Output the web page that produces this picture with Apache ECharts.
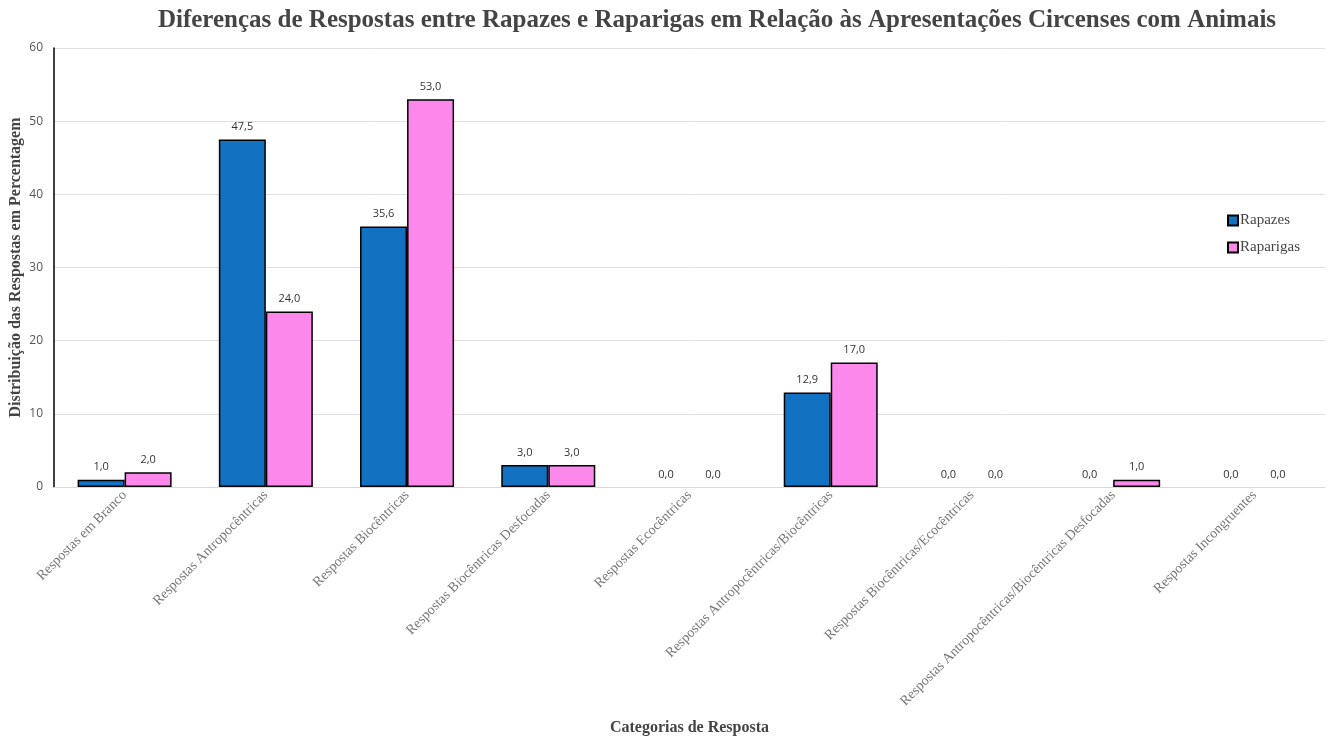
<!DOCTYPE html>
<html>
<head>
<meta charset="utf-8">
<script src="https://cdn.jsdelivr.net/npm/echarts@6/dist/echarts.min.js"></script>
<style>
  html, body { margin: 0; padding: 0; background: #fff; }
  #chart { width: 1331px; height: 740px; }
</style>
</head>
<body>
<div id="chart"></div>
<script>
const categorias = [
  'Respostas em Branco',
  'Respostas Antropocêntricas',
  'Respostas Biocêntricas',
  'Respostas Biocêntricas Desfocadas',
  'Respostas Ecocêntricas',
  'Respostas Antropocêntricas/Biocêntricas',
  'Respostas Biocêntricas/Ecocêntricas',
  'Respostas Antropocêntricas/Biocêntricas Desfocadas',
  'Respostas Incongruentes'
];
const rapazes = [1.0, 47.5, 35.6, 3.0, 0.0, 12.9, 0.0, 0.0, 0.0];
const raparigas = [2.0, 24.0, 53.0, 3.0, 0.0, 17.0, 0.0, 1.0, 0.0];

const chart = echarts.init(document.getElementById('chart'));

// rótulo com vírgula decimal
const rotulo = {
  show: true,
  position: 'top',
  distance: 7,
  fontFamily: 'Open Sans',
  fontSize: 11,
  color: '#333',
  formatter: p => p.value.toFixed(1).replace('.', ',')
};

// barras a zero sem contorno
const semContorno = arr => arr.map(v => v === 0 ? { value: v, itemStyle: { borderWidth: 0 } } : v);

chart.setOption({
  animation: false,
  title: {
    text: 'Diferenças de Respostas entre Rapazes e Raparigas em Relação às Apresentações Circenses com Animais',
    left: 712,
    textAlign: 'center',
    top: 3,
    textStyle: { fontFamily: 'Liberation Serif', fontSize: 25, fontWeight: 'bold', color: '#444' }
  },
  legend: {
    orient: 'vertical',
    left: 1222,
    top: 208,
    itemWidth: 10,
    itemHeight: 10,
    itemGap: 12,
    icon: 'rect',
    textStyle: { fontFamily: 'Liberation Serif', fontSize: 15, color: '#444', padding: [0, 0, 0, -3] },
    data: ['Rapazes', 'Raparigas']
  },
  grid: { left: 54, right: 6, top: 48, bottom: 253, outerBoundsMode: 'none' },
  xAxis: {
    type: 'category',
    data: categorias,
    name: 'Categorias de Resposta',
    nameLocation: 'middle',
    nameGap: 233,
    nameTextStyle: { fontFamily: 'Liberation Serif', fontSize: 16, fontWeight: 'bold', color: '#444' },
    axisLine: { lineStyle: { color: '#d9d9d9', width: 1 } },
    axisTick: { show: false },
    axisLabel: {
      interval: 0,
      rotate: 45,
      margin: 6,
      fontFamily: 'Liberation Serif',
      fontSize: 14,
      color: '#777'
    }
  },
  yAxis: {
    type: 'value',
    min: 0,
    max: 60,
    interval: 10,
    name: 'Distribuição das Respostas em Percentagem',
    nameLocation: 'middle',
    nameGap: 30,
    nameMoveOverlap: false,
    nameTextStyle: { fontFamily: 'Liberation Serif', fontSize: 16, fontWeight: 'bold', color: '#444' },
    axisLine: { show: true, lineStyle: { color: '#000', width: 1.5 } },
    axisTick: { show: false },
    axisLabel: { fontFamily: 'Open Sans', fontSize: 12, color: '#555', margin: 11 },
    splitLine: { lineStyle: { color: '#e0e0e0', width: 1 } }
  },
  series: [
    {
      name: 'Rapazes',
      type: 'bar',
      data: semContorno(rapazes),
      barWidth: 47,
      barGap: '0%',
      itemStyle: { color: '#1271c0', borderColor: '#000', borderWidth: 1.5 },
      label: rotulo
    },
    {
      name: 'Raparigas',
      type: 'bar',
      data: semContorno(raparigas),
      barWidth: 47,
      itemStyle: { color: '#fd88ec', borderColor: '#000', borderWidth: 1.5 },
      label: rotulo
    }
  ]
});
</script>
</body>
</html>
